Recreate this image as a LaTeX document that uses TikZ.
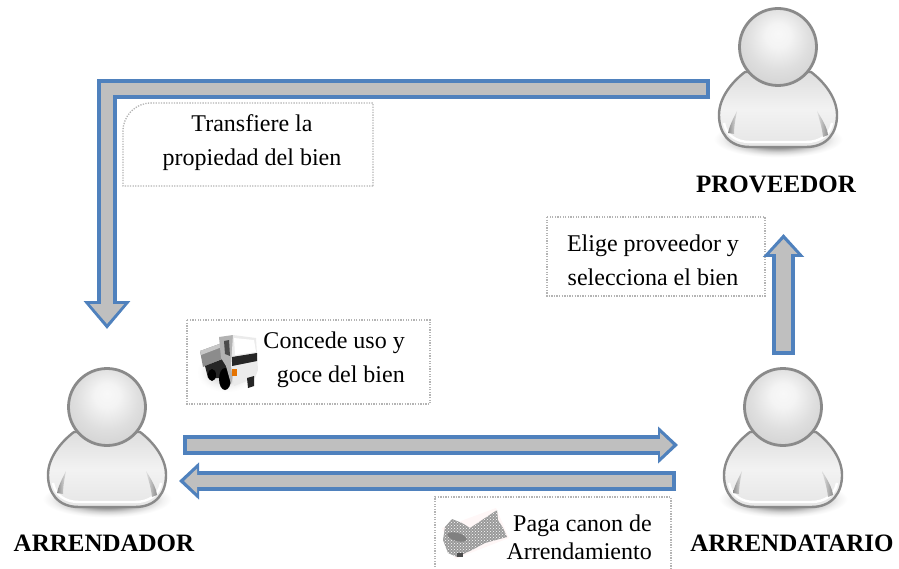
\documentclass[tikz,border=0pt]{standalone}
\usepackage{fontspec}
\setmainfont{Liberation Serif}
\usepackage{tikz}
\usetikzlibrary{arrows.meta,patterns}
\definecolor{azul}{HTML}{4F81BD}
\definecolor{gris}{HTML}{BFBFBF}
\definecolor{punteado}{HTML}{B4B4B4}
\definecolor{contorno}{HTML}{8A8A8A}
\definecolor{luz}{HTML}{F8F8F8}
\definecolor{sombra}{HTML}{CECECE}
\definecolor{penumbra}{HTML}{808080}
\pgfdeclareradialshading{cabezaluz}{\pgfpoint{0bp}{9bp}}{color(0bp)=(luz); color(8bp)=(luz!90!sombra); color(20bp)=(sombra!60!luz); color(34bp)=(sombra); color(50bp)=(sombra)}
\pgfdeclareradialshading{difuso}{\pgfpoint{0bp}{0bp}}{color(0bp)=(penumbra); color(11bp)=(penumbra!85!white); color(16bp)=(penumbra!35!white); color(20bp)=(penumbra!10!white); color(23bp)=(white); color(50bp)=(white)}
\tikzset{
  cuadro/.style={draw=punteado, line width=1.3pt, dash pattern=on 1.3pt off 1.3pt},
  texto/.style={font=\fontsize{24}{34}\selectfont, align=center, inner sep=0pt},
  rotulo/.style={font=\fontsize{25}{30}\selectfont\bfseries, inner sep=0pt},
  borde/.style n args={3}{draw=azul, line width=#1pt, miter limit=10, -{Triangle[length=#2pt,width=#3pt]}, azul},
  relleno/.style n args={4}{draw=gris, line width=#1pt, shorten <=4pt, shorten >=#4pt, -{Triangle[length=#2pt,width=#3pt]}, gris},
  persona/.pic={
    \coordinate (-c) at (0,0);
    \shade[shading=difuso] (0,92) ellipse (70 and 20);
    \draw[contorno, line width=2.4pt, top color=black!13, bottom color=black!10, middle color=black!5]
      (-33,25) .. controls (-45,34) and (-59,50) .. (-59,68)
      .. controls (-59,85) and (-50,100) .. (-28,100) -- (28,100)
      .. controls (50,100) and (59,85) .. (59,68)
      .. controls (59,50) and (45,34) .. (33,25) -- cycle;
    \draw[white, line width=2.4pt] (-54,76) .. controls (-52,88) and (-42,95) .. (-28,95) -- (28,95)
      .. controls (42,95) and (52,88) .. (54,76);
    \shade[left color=black!45, right color=black!12] (-41,64) .. controls (-45,72) and (-49,80) .. (-50,86) -- (-44,87) .. controls (-44,78) and (-42,70) .. (-41,64);
    \shade[right color=black!45, left color=black!12] (39,64) .. controls (44,72) and (49,80) .. (50,88) -- (45,90) .. controls (44,80) and (41,72) .. (39,64);
    \draw[contorno, line width=2.8pt, shading=cabezaluz] (0,0) circle (38.5);
  }
}
\begin{document}
\begin{tikzpicture}[x=1pt,y=-1pt]
    \useasboundingbox (0,0) rectangle (899,569);

    % personas
    \pic (proveedor) at (778,47) {persona};
    \pic (arrendador) at (107,407) {persona};
    \pic (arrendatario) at (783,407) {persona};
    \node[rotulo] (rotuloProveedor) at (776,184) {PROVEEDOR};
    \node[rotulo] (rotuloArrendador) at (104,543) {ARRENDADOR};
    \node[rotulo] (rotuloArrendatario) at (792,543) {ARRENDATARIO};

    % cuadros punteados
    \draw[cuadro] (373,186) -- (123,186) [rounded corners=28pt] -- (123,103) [sharp corners] -- (373,103) -- cycle;
    \draw[cuadro] (547,217) rectangle (765,296);
    \draw[cuadro] (187,320) rectangle (430,404);
    \draw[cuadro] (435,575) -- (435,497) -- (671,497) -- (671,575);

    \node[texto] (textoTransfiere) at (252,143) {Transfiere la\\propiedad del bien};
    \node[texto] (textoElige) at (653,260) {Elige proveedor y\\selecciona el bien};
    \node[texto, align=right, anchor=east] (textoConcede) at (405,360) {Concede uso y\\goce del bien};
    \node[texto, align=right, anchor=east] (textoPaga) at (652,537) {Paga canon de\\[-6pt]Arrendamiento};

    % flechas
    \coordinate (salidaProveedor) at (710,89);
    \coordinate (llegadaArrendador) at (107,329);
    \coordinate (salidaArrendatario) at (783.5,355);
    \coordinate (llegadaProveedor) at (783.5,234);
    \coordinate (salidaUso) at (183,445);
    \coordinate (llegadaUso) at (678,445);
    \coordinate (salidaPago) at (676,481);
    \coordinate (llegadaPago) at (179,481);

    \draw[borde={20}{28}{45}] (salidaProveedor) -| (llegadaArrendador);
    \draw[relleno={12}{20}{33}{5}] (salidaProveedor) -| (llegadaArrendador);

    \draw[borde={23}{23}{40}] (salidaArrendatario) -- (llegadaProveedor);
    \draw[relleno={15}{15}{27}{5}] (salidaArrendatario) -- (llegadaProveedor);

    \draw[borde={20}{20}{36}] (salidaUso) -- (llegadaUso);
    \draw[relleno={12}{13}{24}{5}] (salidaUso) -- (llegadaUso);

    \draw[borde={20}{20}{36}] (salidaPago) -- (llegadaPago);
    \draw[relleno={12}{13}{24}{5}] (salidaPago) -- (llegadaPago);

    % camion
    \shade[shading=difuso, opacity=0.3] (226,372) ellipse (32 and 22);
    \fill[black!45] (200,351) -- (222,343) -- (224,358) -- (203,367) -- cycle;
    \fill[black!22] (200,351) -- (222,343) -- (222,347) -- (201,355) -- cycle;
    \fill[black!85] (205,366) -- (225,358) -- (230,378) -- (208,378) -- cycle;
    \fill[black] (212,375) ellipse (4 and 6);
    \fill[black] (225,379) ellipse (6 and 11);
    \fill[black!30] (219,337) -- (233,335) -- (236,364) -- (231,384) -- (226,366) -- (221,358) -- cycle;
    \fill[black!70] (224,341) -- (229,340) -- (230,356) -- (225,354) -- cycle;
    \fill[black!8] (233,335) -- (256,338) -- (258,370) -- (255,378) -- (234,386) -- (231,366) -- cycle;
    \fill[white] (234,338) -- (254,340) -- (256,352) -- (235,355) -- cycle;
    \fill[black!85] (232,357) -- (257,353) -- (257,361) -- (232,366) -- cycle;
    \fill[orange!90!black] (232,369) rectangle (237,376);
    \fill[black!85] (247,378) -- (254,376) -- (254,386) -- (248,388) -- cycle;

    % billete
    \fill[red!3] (442,528) -- (496,508) -- (509,538) -- (455,559) -- cycle;
    \fill[black!40] (445,527) -- (452,519) -- (462,523) -- (470,528) -- (485,518) -- (497,510) -- (498,520)
      -- (503,528) -- (507,537) -- (485,543) -- (472,550) -- (457,557) -- (448,553) -- (443,540) -- cycle;
    \fill[pattern=crosshatch dots, pattern color=white] (445,527) -- (452,519) -- (462,523) -- (470,528) -- (485,518) -- (497,510) -- (498,520)
      -- (503,528) -- (507,537) -- (485,543) -- (472,550) -- (457,557) -- (448,553) -- (443,540) -- cycle;
    \fill[black!50, rotate around={-15:(457,537)}] (457,537) ellipse (10 and 4);
    \fill[black!70] (457,553) rectangle (463,557);
\end{tikzpicture}
\end{document}
